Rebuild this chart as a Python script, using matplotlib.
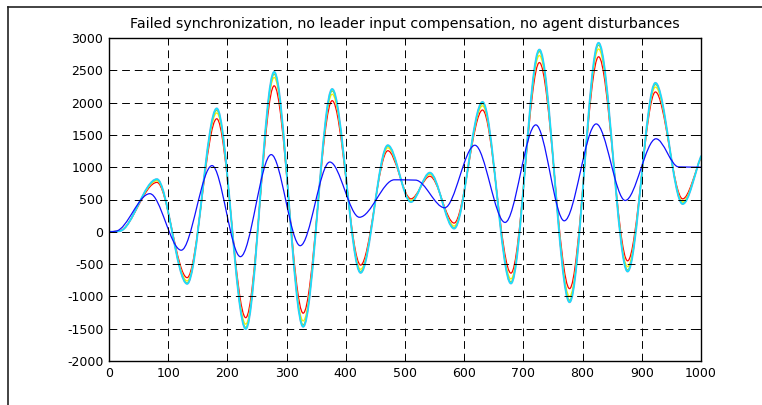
import numpy as np
import matplotlib
matplotlib.use('Agg')
from matplotlib import pyplot as plt
from matplotlib.path import Path
from matplotlib.patches import PathPatch
from matplotlib.lines import Line2D

# leader trajectory (turning points)
leader_x = [0, 12, 69, 122, 174, 222, 274, 323, 373, 423, 482, 518,
            567, 618, 669, 721, 769, 823, 872, 924, 962, 1000]
leader_y = [0, 10, 590, -285, 1025, -385, 1195, -215, 1080, 225, 805, 800,
            372, 1340, 145, 1655, 170, 1670, 485, 1440, 1005, 1000]

# agents share the same turning points in x
agent_x = [0, 18, 81, 132, 182, 231, 279, 328, 377, 425, 471, 510,
           542, 583, 631, 679, 727, 778, 827, 876, 923, 969, 1000]
red_y = [0, 15, 765, -710, 1750, -1330, 2260, -1260, 2030, -515, 1255, 510,
         860, 135, 1885, -640, 2620, -880, 2710, -450, 2165, 510, 1150]
yellow_y = [0, 13, 790, -760, 1840, -1430, 2390, -1380, 2130, -580, 1300, 485,
            890, 90, 1950, -730, 2730, -1000, 2830, -540, 2240, 470, 1160]
green_y = [0, 12, 805, -790, 1880, -1480, 2440, -1440, 2180, -615, 1325, 470,
           905, 65, 1985, -775, 2790, -1060, 2890, -590, 2280, 445, 1165]
cyan_y = [0, 10, 815, -805, 1910, -1505, 2475, -1470, 2210, -635, 1340, 460,
          915, 50, 2010, -800, 2820, -1090, 2925, -615, 2305, 430, 1170]

x_ticks = np.arange(0, 1001, 100)
y_ticks = np.arange(-2000, 3001, 500)
title = 'Failed synchronization, no leader input compensation, no agent disturbances'


def smooth_path(xs, ys):
    # cubic curve through the points, flat at the turning points
    xs = np.asarray(xs, float)
    ys = np.asarray(ys, float)
    d = np.diff(ys) / np.diff(xs)
    m = np.zeros(len(xs))
    for i in range(1, len(xs) - 1):
        if d[i - 1] * d[i] > 0:
            m[i] = 2 * d[i - 1] * d[i] / (d[i - 1] + d[i])
    m[-1] = d[-1]
    verts = [(xs[0], ys[0])]
    codes = [Path.MOVETO]
    for i in range(len(xs) - 1):
        h = xs[i + 1] - xs[i]
        verts += [(xs[i] + h / 3, ys[i] + m[i] * h / 3),
                  (xs[i + 1] - h / 3, ys[i + 1] - m[i + 1] * h / 3),
                  (xs[i + 1], ys[i + 1])]
        codes += [Path.CURVE4] * 3
    return Path(verts, codes)


def draw(ax, xs, ys, color, lw):
    ax.add_patch(PathPatch(smooth_path(xs, ys), facecolor='none',
                           edgecolor=color, lw=lw, capstyle='round', joinstyle='round'))


plt.rcParams['font.family'] = ['DejaVu Sans']
plt.rcParams['axes.unicode_minus'] = False

fig = plt.figure(figsize=(7.62, 4.05), dpi=100)
ax = fig.add_axes([109 / 762, 1 - 361 / 405, 592 / 762, 323 / 405])

draw(ax, agent_x, red_y, '#ff0000', 0.9)
draw(ax, agent_x, yellow_y, '#f2f200', 0.9)
draw(ax, agent_x, green_y, '#8ee61c', 0.9)
draw(ax, agent_x, cyan_y, '#6aaee8', 1.4)
draw(ax, agent_x, cyan_y, '#00f0ff', 0.75)
draw(ax, leader_x, leader_y, '#1010ff', 0.9)

ax.set_xlim(0, 1000)
ax.set_ylim(-2000, 3000)
ax.set_xticks(x_ticks)
ax.set_yticks(y_ticks)
ax.grid(True, color='black', lw=0.7, linestyle=(0, (8, 5)))
ax.tick_params(direction='in', top=True, right=True, length=3.5, width=0.7,
               labelsize=9, pad=4)
for s in ax.spines.values():
    s.set_linewidth(1.0)

ax.set_title(title, fontsize=10.3, pad=7)

# outer frame of the original figure (only top and left edges are visible)
fig.add_artist(Line2D([8 / 762, 1], [1 - 7 / 405, 1 - 7 / 405], color='#222222', lw=1.2,
                      transform=fig.transFigure))
fig.add_artist(Line2D([8 / 762, 8 / 762], [0, 1 - 7 / 405], color='#222222', lw=1.2,
                      transform=fig.transFigure))

plt.savefig('out.png', dpi=100)
plt.close('all')
